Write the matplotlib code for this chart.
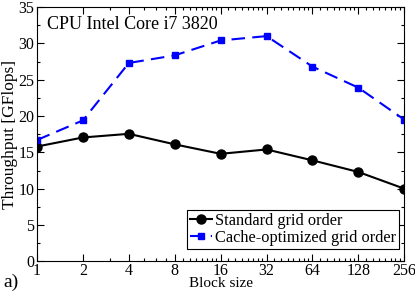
import numpy as np
import matplotlib
matplotlib.use("Agg")
import matplotlib.pyplot as plt
from matplotlib.ticker import FixedLocator, FixedFormatter, MultipleLocator, NullFormatter

# data
block_sizes = [1, 2, 4, 8, 16, 32, 64, 128, 256]
standard = [15.8, 17.05, 17.55, 16.1, 14.8, 15.4, 13.9, 12.3, 10.0]
cache_opt = [16.7, 19.4, 27.3, 28.35, 30.4, 31.0, 26.8, 23.9, 19.5]
tick_labels = ["1", "2", "4", "8", "16", "32", "64", "128", "256"]

plt.rcParams['font.family'] = ['Liberation Serif', 'DejaVu Serif']
plt.rcParams['font.size'] = 12

fig = plt.figure(figsize=(4.15, 2.93), dpi=100)
ax = fig.add_axes([0.0892, 0.108, 0.885, 0.868])

ax.plot(block_sizes, standard, color='black', lw=1.5, marker='o', ms=6.5,
        label='Standard grid order')
ax.plot(block_sizes, cache_opt, color='blue', lw=1.5, ls=(0, (6.5, 3.5)), marker='s', ms=5,
        label='Cache-optimized grid order')

ax.set_xscale('log', base=2)
ax.set_xlim(1, 256)
ax.set_ylim(0, 35)

# minor ticks like the original: integer steps within each octave
minor = []
for k in range(8):
    lo = 2 ** k
    step = max(1, lo // 8)
    minor += list(range(lo + step, 2 * lo, step))
ax.xaxis.set_major_locator(FixedLocator(block_sizes))
ax.xaxis.set_major_formatter(FixedFormatter(tick_labels))
ax.xaxis.set_minor_locator(FixedLocator(minor))
ax.xaxis.set_minor_formatter(NullFormatter())
ax.yaxis.set_major_locator(MultipleLocator(5))
ax.yaxis.set_minor_locator(MultipleLocator(2.5))

ax.tick_params(which='both', direction='in', top=True, right=True, labelsize=11.5, pad=2)
ax.tick_params(axis='x', which='both', pad=1)
ax.tick_params(which='major', length=5, width=0.8)
ax.tick_params(which='minor', length=2.5, width=0.8)

ax.set_xlabel('Block size', fontsize=11, labelpad=-1)
ax.set_ylabel('Throughput [GFlops]', fontsize=12.5, labelpad=0)

ax.text(0.028, 0.93, 'CPU Intel Core i7 3820', transform=ax.transAxes, fontsize=13,
        va='center', ha='left')
fig.text(0.008, 0.035, 'a)', fontsize=14, ha='left', va='center')

leg = ax.legend(loc='lower right', bbox_to_anchor=(0.995, 0.035), fontsize=11.8,
                handlelength=1.3, handletextpad=0.2, borderpad=0.2, labelspacing=0.05,
                fancybox=False, framealpha=1, edgecolor='black', borderaxespad=0.2)
leg.get_frame().set_linewidth(0.8)

fig.savefig('out.png', dpi=100)
